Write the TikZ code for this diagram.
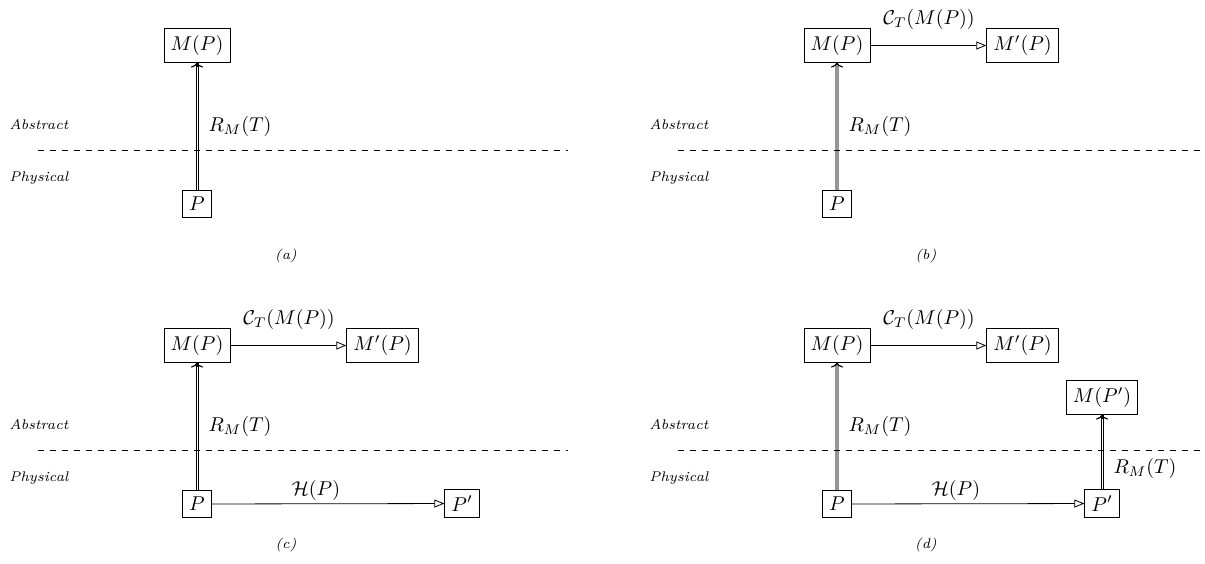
\documentclass[tikz,border=0pt]{standalone}
\usetikzlibrary{arrows.meta}
\definecolor{repgrey}{RGB}{150,150,150}
\begin{document}
\begin{tikzpicture}[x=0.5pt,y=0.5pt,
  box/.style={draw, inner sep=3.33pt},
  lbl/.style={inner sep=0pt},
  rail/.style={line width=0.4pt},
  reptip/.style={-{To[length=2.5pt,width=6pt,line width=0.6pt]}},
  greyrep/.style={draw=repgrey, line width=1.6pt, -{To[black,line width=0.6pt,length=2.5pt,width=6pt]}},
  trans/.style={-{Triangle[open,length=5pt,width=4pt]}},
  sepline/.style={dashed},
  side/.style={font=\scriptsize\itshape},
  captext/.style={font=\scriptsize\itshape}]
\useasboundingbox (0,-563) rectangle (1205,0);

% ---- panel (a)
\node[box] (aMP) at (197,-45.5) {$M(P)$};
\node[box] (aP) at (197,-204) {$P$};
\draw[rail] ([xshift=-0.5pt]aP.north) -- ([xshift=-0.5pt]aMP.south);
\draw[rail] ([xshift=0.5pt]aP.north) -- ([xshift=0.5pt]aMP.south);
\draw[reptip] ([yshift=-2pt]aMP.south) -- (aMP.south);
\node[lbl] (aRl) at (240,-126) {$R_M(T)$};
\coordinate (aL) at (38,-150); \coordinate (aR) at (568,-150);
\draw[sepline] (aL) -- (aR);
\node[side] (aAbs) at (39,-125) {Abstract};
\node[side] (aPhy) at (39,-178) {Physical};
\node[captext] (aCap) at (286,-256) {(a)};

% ---- panel (b)
\node[box] (bMP) at (837,-45.5) {$M(P)$};
\node[box] (bMpP) at (1022.5,-45.5) {$M'(P)$};
\node[box] (bP) at (837,-204) {$P$};
\draw[greyrep] (bP) -- (bMP);
\node[lbl] (bRl) at (880,-126) {$R_M(T)$};
\draw[trans] (bMP) -- (bMpP);
\node[lbl] (bCl) at (929,-19) {$\mathcal{C}_T(M(P))$};
\coordinate (bL) at (678,-150); \coordinate (bR) at (1205,-150);
\draw[sepline] (bL) -- (bR);
\node[side] (bAbs) at (679,-125) {Abstract};
\node[side] (bPhy) at (679,-178) {Physical};
\node[captext] (bCap) at (926,-256) {(b)};

% ---- panel (c)
\node[box] (cMP) at (197,-345.5) {$M(P)$};
\node[box] (cMpP) at (382.5,-345.5) {$M'(P)$};
\node[box] (cP) at (197,-504) {$P$};
\node[box] (cPp) at (462,-503.5) {$P'$};
\draw[rail] ([xshift=-0.5pt]cP.north) -- ([xshift=-0.5pt]cMP.south);
\draw[rail] ([xshift=0.5pt]cP.north) -- ([xshift=0.5pt]cMP.south);
\draw[reptip] ([yshift=-2pt]cMP.south) -- (cMP.south);
\node[lbl] (cRl) at (240,-426) {$R_M(T)$};
\draw[trans] (cMP) -- (cMpP);
\node[lbl] (cCl) at (289,-319) {$\mathcal{C}_T(M(P))$};
\draw[trans] (cP) -- (cPp);
\node[lbl] (cHl) at (316,-490) {$\mathcal{H}(P)$};
\coordinate (cL) at (38,-450); \coordinate (cR) at (568,-450);
\draw[sepline] (cL) -- (cR);
\node[side] (cAbs) at (39,-425) {Abstract};
\node[side] (cPhy) at (39,-478) {Physical};
\node[captext] (cCap) at (286,-545) {(c)};

% ---- panel (d)
\node[box] (dMP) at (837,-345.5) {$M(P)$};
\node[box] (dMpP) at (1022.5,-345.5) {$M'(P)$};
\node[box] (dP) at (837,-504) {$P$};
\node[box] (dPp) at (1102,-503.5) {$P'$};
\node[box] (dMPp) at (1102,-397.5) {$M(P')$};
\draw[greyrep] (dP) -- (dMP);
\node[lbl] (dRl) at (880,-426) {$R_M(T)$};
\draw[trans] (dMP) -- (dMpP);
\node[lbl] (dCl) at (929,-319) {$\mathcal{C}_T(M(P))$};
\draw[trans] (dP) -- (dPp);
\node[lbl] (dHl) at (956,-490) {$\mathcal{H}(P)$};
\draw[rail] ([xshift=-0.5pt]dPp.north) -- ([xshift=-0.5pt]dMPp.south);
\draw[rail] ([xshift=0.5pt]dPp.north) -- ([xshift=0.5pt]dMPp.south);
\draw[reptip] ([yshift=-2pt]dMPp.south) -- (dMPp.south);
\node[lbl] (dRl2) at (1145,-468) {$R_M(T)$};
\coordinate (dL) at (678,-450); \coordinate (dR) at (1205,-450);
\draw[sepline] (dL) -- (dR);
\node[side] (dAbs) at (679,-425) {Abstract};
\node[side] (dPhy) at (679,-478) {Physical};
\node[captext] (dCap) at (926,-545) {(d)};
\end{tikzpicture}
\end{document}
